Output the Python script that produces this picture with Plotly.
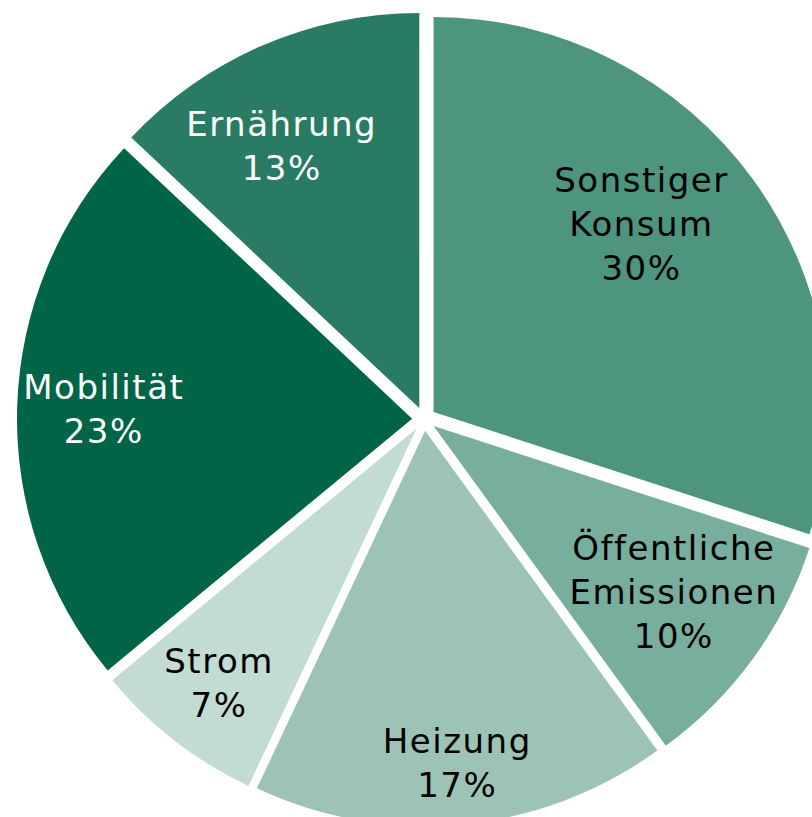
import math
import plotly.graph_objects as go

# ---- data ----
categories = ["Sonstiger Konsum", "Öffentliche Emissionen", "Heizung", "Strom", "Mobilität", "Ernährung"]
label_text = ["Sonstiger<br>Konsum", "Öffentliche<br>Emissionen", "Heizung", "Strom", "Mobilität", "Ernährung"]
values = [30, 10, 17, 7, 23, 13]

# ---- styles ----
colors = ["#4d957f", "#78ae9d", "#9cc3b6", "#c2dbd3", "#006446", "#2a7b63"]
text_colors = ["black", "black", "black", "black", "white", "white"]
# label placement: fraction of radius and angular offset (deg) from slice mid-angle
label_rfrac = [0.74, 0.77, 0.875, 0.846, 0.811, 0.78]
label_dtheta = [-5.8, -1.4, 0.0, 0.0, 0.0, -4.2]

W, H = 840, 832
cx, cy, Rtot = 424, 419, 407
pull = 0.03
r_in = Rtot / (1 + pull)

fig = go.Figure(go.Pie(
    labels=categories,
    values=values,
    sort=False,
    direction="clockwise",
    rotation=0,
    pull=pull,
    marker=dict(colors=colors, line=dict(width=0)),
    textinfo="none",
    hoverinfo="none",
    showlegend=False,
    domain=dict(x=[(cx - Rtot) / W, (cx + Rtot) / W],
                y=[(H - (cy + Rtot)) / H, (H - (cy - Rtot)) / H]),
))

total = sum(values)
cum = 0
for i, v in enumerate(values):
    mid = (cum + v / 2) / total * 360 + label_dtheta[i]
    cum += v
    rr = label_rfrac[i] * r_in
    px = cx + rr * math.sin(math.radians(mid))
    py = cy - rr * math.cos(math.radians(mid))
    fig.add_annotation(
        x=px / W, y=1 - py / H, xref="paper", yref="paper",
        text=f"{label_text[i]}<br>{v}%",
        showarrow=False, xanchor="center", yanchor="middle",
        font=dict(family="DejaVu Sans", size=34, color=text_colors[i]),
    )

fig.update_layout(
    width=W, height=H,
    margin=dict(l=0, r=0, t=0, b=0),
    paper_bgcolor="white",
    plot_bgcolor="white",
)

post = (
    "document.body.style.margin='0';"
    "document.body.style.overflow='hidden';"
    "var s=document.createElement('style');"
    "s.textContent='.annotation-text{letter-spacing:1.5px;}';"
    "document.head.appendChild(s);"
)

fig.write_html("out.html", config={"displayModeBar": False}, post_script=post)
